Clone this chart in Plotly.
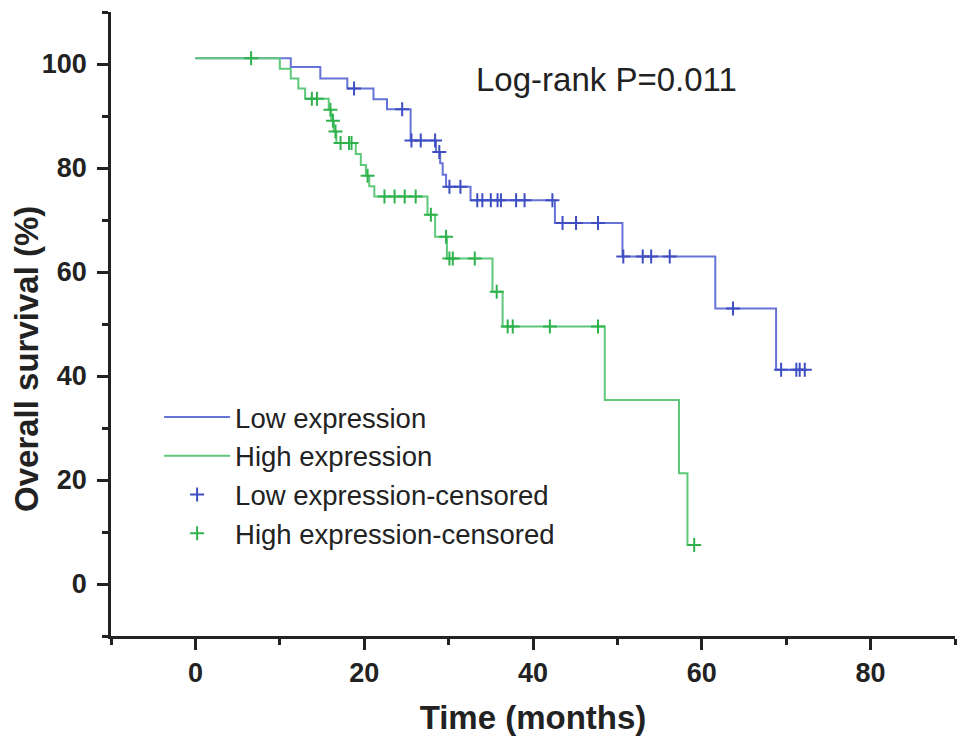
import plotly.graph_objects as go

# Kaplan-Meier steps (months, % surviving)
low_time = [0, 11.3, 14.8, 18.0, 21.1, 22.7, 25.5, 28.5, 29.0, 29.3, 29.7,
            32.6, 42.6, 50.6, 61.6, 68.8, 72.3]
low_surv = [101.1, 99.4, 97.2, 95.3, 93.2, 91.3, 85.3, 83.1, 80.9, 78.7, 76.4,
            73.8, 69.4, 63.0, 53.0, 41.2, 41.2]

high_time = [0, 10.0, 11.3, 12.2, 13.0, 15.8, 16.1, 16.4, 16.7, 19.0, 19.6,
             20.2, 20.6, 21.2, 27.5, 28.4, 29.8, 35.2, 36.4, 48.5, 57.3, 58.3, 59.1]
high_surv = [101.1, 99.1, 97.2, 95.3, 93.3, 91.2, 89.1, 87.0, 84.8, 82.7, 80.6,
             78.5, 76.5, 74.5, 71.0, 66.8, 62.6, 56.2, 49.5, 35.4, 21.3, 7.5, 7.5]

# censored observations
low_cens_time = [18.8, 24.5, 25.6, 26.7, 28.4, 28.9, 30.1, 31.4, 33.4, 34.0, 35.0,
                 35.8, 36.2, 38.0, 39.0, 42.3, 43.5, 45.1, 47.7, 50.7, 53.0, 54.0,
                 56.2, 63.7, 69.4, 71.2, 71.6, 72.2]
low_cens_surv = [95.3, 91.3, 85.3, 85.3, 85.3, 83.1, 76.4, 76.4, 73.8, 73.8, 73.8,
                 73.8, 73.8, 73.8, 73.8, 73.8, 69.4, 69.4, 69.4, 63.0, 63.0, 63.0,
                 63.0, 53.0, 41.2, 41.2, 41.2, 41.2]

high_cens_time = [6.6, 13.8, 14.4, 16.0, 16.3, 16.6, 17.2, 18.2, 18.5, 20.4, 22.4,
                  23.6, 24.8, 26.1, 27.9, 29.7, 30.1, 30.5, 33.1, 35.7, 37.0, 37.6,
                  42.0, 47.7, 59.1]
high_cens_surv = [101.1, 93.3, 93.3, 91.2, 89.1, 87.0, 84.8, 84.8, 84.8, 78.5, 74.5,
                  74.5, 74.5, 74.5, 71.0, 66.8, 62.6, 62.6, 62.6, 56.2, 49.5, 49.5,
                  49.5, 49.5, 7.5]

blue_line = "#6673d6"
blue_mark = "#3e4dc2"
green_line = "#5ec97a"
green_mark = "#2fb24c"
ink = "#222222"
font_name = "Liberation Sans, Arial"

fig = go.Figure()
fig.add_trace(go.Scatter(x=low_time, y=low_surv, mode="lines", line_shape="hv",
                         line=dict(color=blue_line, width=2), name="Low expression"))
fig.add_trace(go.Scatter(x=high_time, y=high_surv, mode="lines", line_shape="hv",
                         line=dict(color=green_line, width=2), name="High expression"))
fig.add_trace(go.Scatter(x=low_cens_time, y=low_cens_surv, mode="markers",
                         marker=dict(symbol="cross-thin", size=10,
                                     line=dict(color=blue_mark, width=2)),
                         name="Low expression-censored"))
fig.add_trace(go.Scatter(x=high_cens_time, y=high_cens_surv, mode="markers",
                         marker=dict(symbol="cross-thin", size=10,
                                     line=dict(color=green_mark, width=2)),
                         name="High expression-censored"))

fig.add_annotation(x=48.7, y=97, text="Log-rank P=0.011", showarrow=False,
                   font=dict(family=font_name, size=33, color=ink))

# y title sits a bit below the middle of the axis in the original
fig.add_annotation(x=-0.0995, y=0.444, xref="paper", yref="paper", textangle=-90,
                   text="Overall survival (%)", showarrow=False,
                   xanchor="center", yanchor="middle",
                   font=dict(family=font_name, size=33, color=ink, weight="bold"))

axis_font = dict(family=font_name, size=27, color=ink, weight="bold")
common = dict(tick0=0, dtick=20, ticks="outside", ticklen=11, tickwidth=2.5,
              tickcolor=ink, showline=True, linewidth=2.5, linecolor=ink,
              showgrid=False, zeroline=False, tickfont=axis_font,
              minor=dict(dtick=10, tick0=0, ticks="outside", ticklen=6,
                         tickwidth=2.5, tickcolor=ink, showgrid=False))
fig.update_xaxes(range=[-10, 90], **common,
                 title=dict(text="Time (months)", standoff=19,
                            font=dict(family=font_name, size=33, color=ink,
                                      weight="bold")))
fig.update_yaxes(range=[-10, 110], ticklabelstandoff=5, **common)

fig.update_layout(width=961, height=736, margin=dict(l=103, r=14, t=4, b=108),
                  paper_bgcolor="white", plot_bgcolor="white",
                  legend=dict(x=0.057, y=0.39, xanchor="left", yanchor="top",
                              bgcolor="rgba(0,0,0,0)", itemwidth=66,
                              font=dict(family=font_name, size=27.5, color=ink)))

fig.write_html("out.html")
